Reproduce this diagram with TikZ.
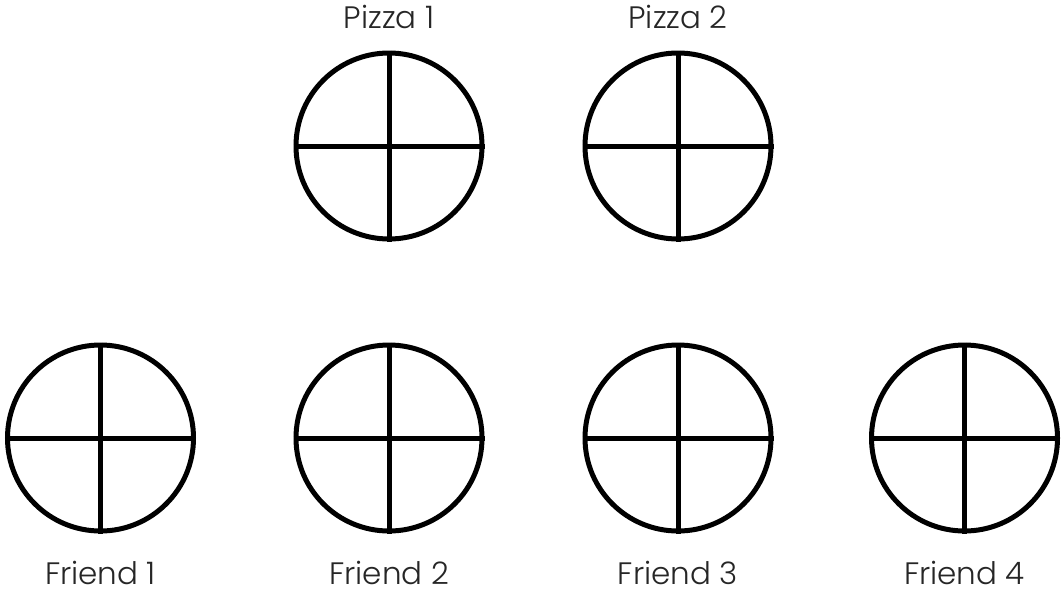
\documentclass[tikz,border=0pt]{standalone}
\usepackage{fontspec}
\setmainfont{Poppins}[UprightFont=* Light]
\usepackage{tikz}
\usetikzlibrary{positioning}

\begin{document}
\begin{tikzpicture}[
    x=1pt, y=-1pt,
    pizza/.style={circle, draw, line width=5pt, minimum size=186pt, inner sep=0pt},
    cut/.style={line width=5pt},
    lbl/.style={font=\fontsize{31}{36}\selectfont, text=black!85, inner sep=0pt}
]
    \useasboundingbox (0,0) rectangle (1062,592);

    % Pizzas
    \node[pizza] (pz1) at (389,146) {};
    \node[pizza] (pz2) at (678,146) {};

    % Friends
    \node[pizza] (fr1) at (100.5,438) {};
    \node[pizza] (fr2) at (389,438) {};
    \node[pizza] (fr3) at (678,438) {};
    \node[pizza] (fr4) at (964.5,438) {};

    % Slices
    \foreach \p in {pz1,pz2,fr1,fr2,fr3,fr4} {
        \draw[cut] (\p.north) -- (\p.south);
        \draw[cut] (\p.west) -- (\p.east);
    }

    % Labels
    \node[lbl, above=22pt of pz1] (lpz1) {Pizza 1};
    \node[lbl, above=22pt of pz2] (lpz2) {Pizza 2};
    \node[lbl, below=27pt of fr1] (lfr1) {Friend 1};
    \node[lbl, below=27pt of fr2] (lfr2) {Friend 2};
    \node[lbl, below=27pt of fr3] (lfr3) {Friend 3};
    \node[lbl, below=27pt of fr4] (lfr4) {Friend 4};

\end{tikzpicture}
\end{document}
